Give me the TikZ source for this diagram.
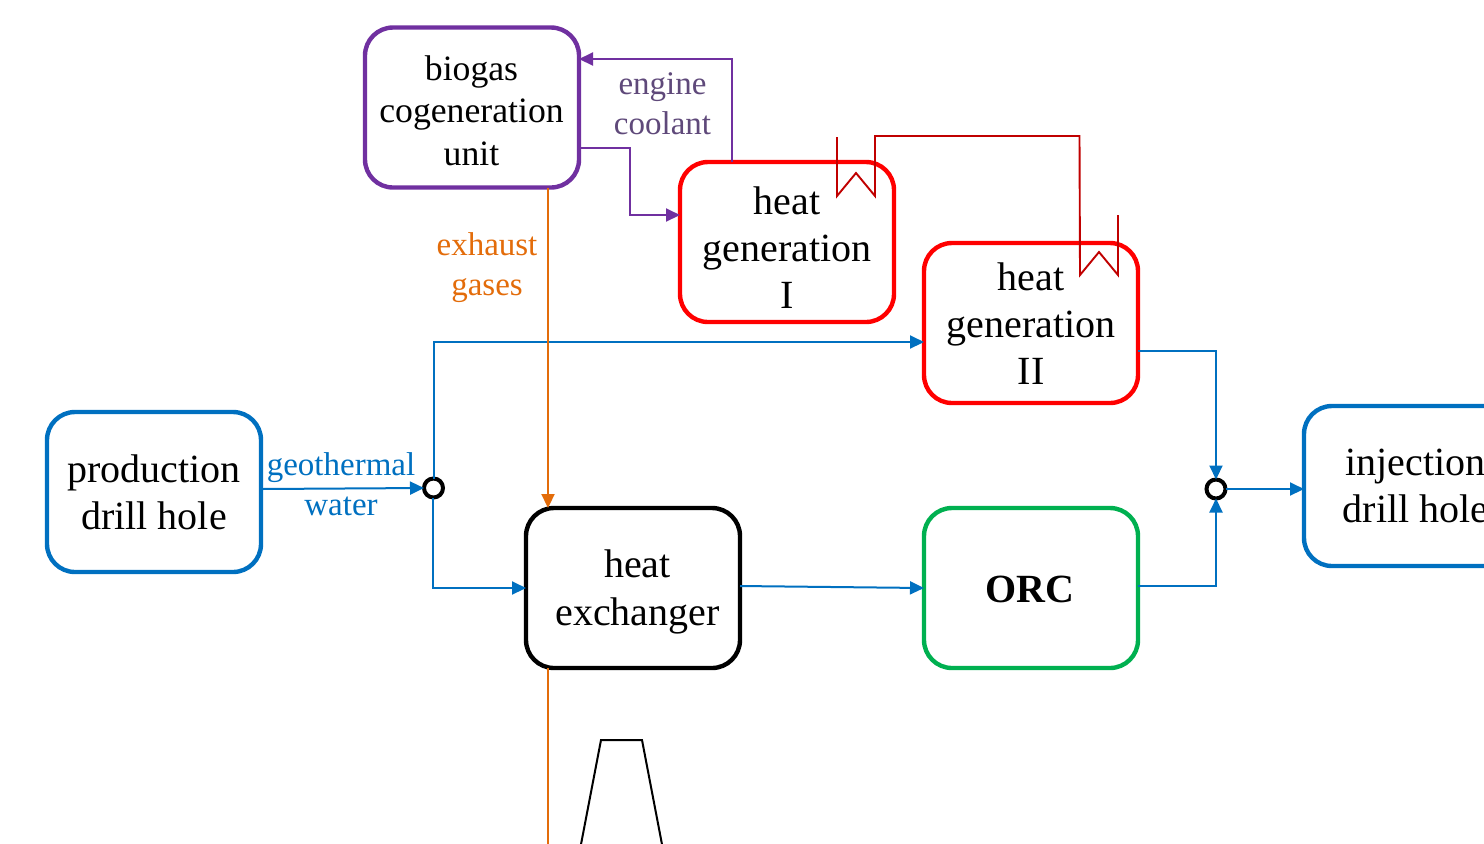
\documentclass[tikz,border=0pt]{standalone}
\usepackage{fontspec}
\setmainfont{Liberation Serif}
\usetikzlibrary{arrows.meta}
\definecolor{cblue}{HTML}{0070C0}
\definecolor{cpurple}{HTML}{7030A0}
\definecolor{lpurple}{HTML}{5F497A}
\definecolor{corange}{HTML}{E36C0A}
\definecolor{cred}{HTML}{FF0000}
\definecolor{dred}{HTML}{C00000}
\definecolor{cgreen}{HTML}{00B050}
\tikzset{
  x=0.5pt,y=-0.5pt,
  unit box/.style={draw=#1,line width=2.2pt,rounded corners=14pt,minimum width=107pt,minimum height=80pt,outer sep=0pt,inner sep=0pt},
  big text/.style={align=center,inner sep=0pt,font=\fontsize{20}{23.6}\selectfont},
  mid text/.style={align=center,inner sep=0pt,font=\fontsize{17.85}{21.3}\selectfont},
  small text/.style={align=center,inner sep=0pt,font=\fontsize{16.5}{20}\selectfont},
  flow/.style={draw=#1,line width=1pt,-{Triangle[length=7pt,width=6.5pt]}},
  plain flow/.style={draw=#1,line width=1pt},
  junction/.style={circle,draw=black,line width=2pt,fill=white,inner sep=0pt,outer sep=0pt,minimum size=9.5pt},
  coil/.style={draw=dred,line width=0.95pt,line join=miter},
}
\begin{document}
\begin{tikzpicture}
\useasboundingbox (0,0) rectangle (1484,843);
\clip (0,0) rectangle (1484,843);
% boxes
\node[unit box=cpurple] (bio) at (472,107.5) {};
\node[unit box=cred] (genA) at (787,242) {};
\node[unit box=cred] (genB) at (1031,323) {};
\node[unit box=cblue] (prod) at (154,492) {};
\node[unit box=cblue] (inj) at (1411,486) {};
\node[unit box=black] (exch) at (633,588) {};
\node[unit box=cgreen] (orc) at (1031,588) {};
% texts
\node[mid text] (bioT) at (471.5,110.5) {biogas\\cogeneration\\unit};
\node[big text] (genAT) at (787,247.5) {heat\\generation\\I};
\node[big text] (genBT) at (1031,323.5) {heat\\generation\\II};
\node[big text] (prodT) at (154,492.5) {production\\drill hole};
\node[big text] (injT) at (1415.5,486) {injection\\drill hole};
\node[big text] (exchT) at (637.5,592) {heat\\exchanger};
\node[big text,font=\fontsize{20}{23.6}\selectfont\bfseries] (orcT) at (1030,589) {ORC};
\node[small text,text=cblue] (geoT) at (341,484.5) {geothermal\\water};
\node[small text,text=corange] (exhT) at (487,268) {exhaust\\gases};
\node[small text,text=lpurple] (engT) at (662.5,104) {engine\\coolant};
% junctions
\node[junction] (j1) at (433.5,488) {};
\node[junction] (j2) at (1216,489) {};
% stack
\coordinate (s1) at (578,860);
\coordinate (s2) at (601,740);
\coordinate (s3) at (642,740);
\coordinate (s4) at (665,860);
\draw[black,line width=1pt,line join=miter] (s1) -- (s2) -- (s3) -- (s4);
% connectors
\draw[flow=cblue] ([yshift=1.5pt]prod.east) -- (j1.west);
\coordinate (a1) at (433.5,342);
\draw[flow=cblue] (j1.north) -- (a1) -- (a1 -| genB.west);
\coordinate (a2) at (432.5,588);
\draw[flow=cblue] ([xshift=-0.5pt]j1.south) -- (a2) -- (a2 -| exch.west);
\draw[flow=cblue] ([yshift=1pt]exch.east) -- (orc.west);
\coordinate (a3) at (1216,586);
\draw[flow=cblue] (a3 -| orc.east) -- (a3) -- (j2.south);
\coordinate (a4) at (1216,351);
\draw[flow=cblue] (a4 -| genB.east) -- (a4) -- (j2.north);
\draw[flow=cblue] (j2.east) -- (j2 -| inj.west);
\coordinate (b1) at (630,148);
\coordinate (b2) at (630,215);
\draw[flow=cpurple] (b1 -| bio.east) -- (b1) -- (b2) -- (b2 -| genA.west);
\coordinate (b3) at (732,59);
\draw[flow=cpurple] (b3 |- genA.north) -- (b3) -- (b3 -| bio.east);
\coordinate (c1) at (548,0);
\draw[flow=corange,line width=1.1pt] (c1 |- bio.south) -- (c1 |- exch.north);
\coordinate (c2) at (548,860);
\draw[plain flow=corange,line width=1.1pt] (c2 |- exch.south) -- (c2);
\coordinate (d1) at (837,137);
\coordinate (d2) at (837,196);
\coordinate (d3) at (856,173);
\coordinate (d4) at (875,196);
\coordinate (d5) at (875,136);
\coordinate (d6) at (1079.5,136);
\coordinate (d7) at (1080,275);
\coordinate (d8) at (1099,252);
\coordinate (d9) at (1118,275);
\coordinate (d10) at (1118,215);
\draw[coil] (d1) -- (d2) -- (d3) -- (d4) -- (d5) -- (d6) -- (d7) -- (d8) -- (d9) -- (d10);
\end{tikzpicture}
\end{document}
